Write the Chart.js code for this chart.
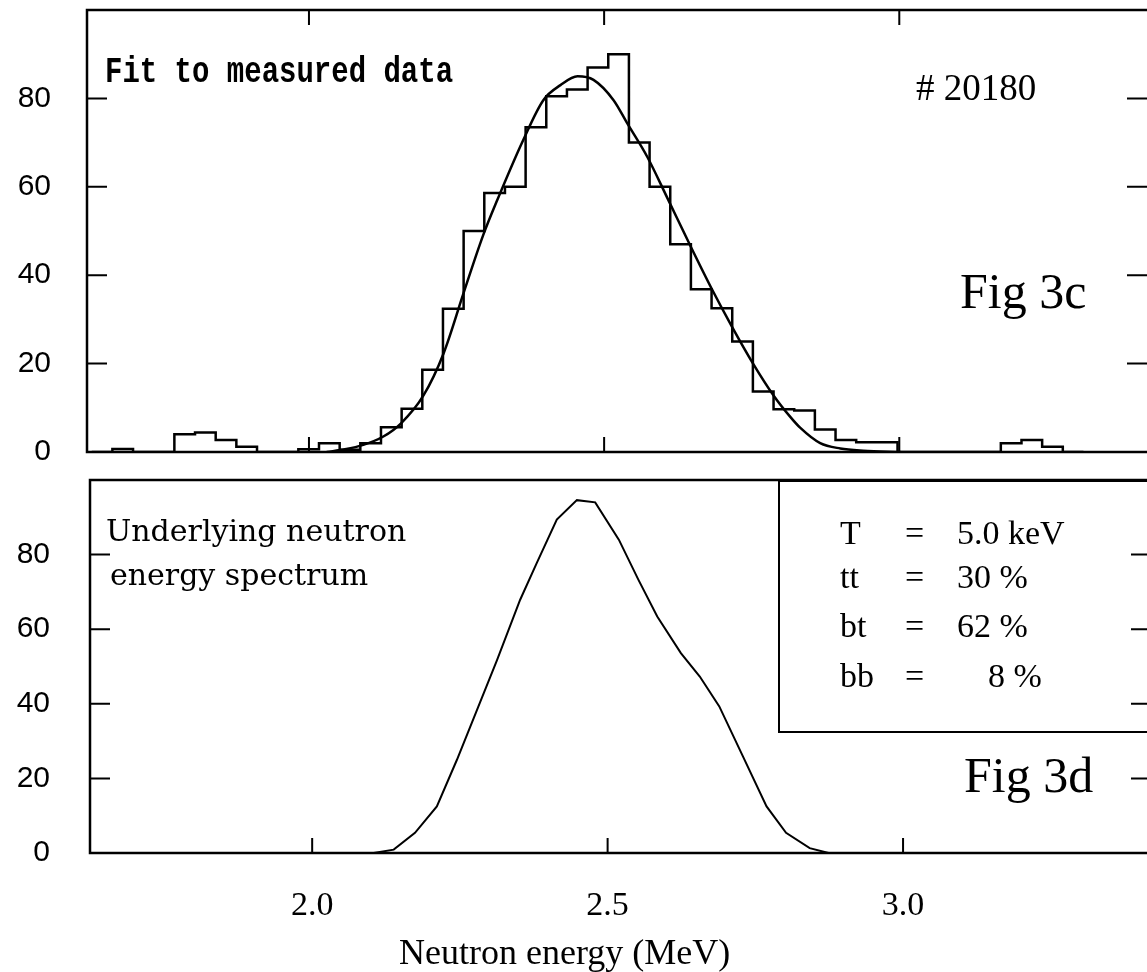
<!DOCTYPE html>
<html>
<head>
<meta charset="utf-8">
<script src="https://cdn.jsdelivr.net/npm/chart.js@4"></script>
<style>
  body { margin: 0; background: #fff; overflow: hidden; width: 1147px; height: 972px; position: relative; }
  canvas { position: absolute; left: 0; }
  .txt { position: absolute; white-space: pre; color: #000; line-height: 1; }
  .serif { font-family: "Liberation Serif", serif; }
  .legendBox { position: absolute; left: 778px; top: 480px; width: 420px; height: 253px; border: 2px solid #000; box-sizing: border-box; }
</style>
</head>
<body>
<canvas id="top" width="1160" height="470" style="top:0"></canvas>
<canvas id="bottom" width="1165" height="512" style="top:460px"></canvas>

<div class="legendBox"></div>

<div class="txt" style="left:105px;top:52px;font:bold 29px 'Liberation Mono',monospace;transform:scaleY(1.25);transform-origin:0 0">Fit to measured data</div>
<div class="txt serif" style="left:916px;top:69px;font-size:37px"># 20180</div>
<div class="txt serif" style="left:960px;top:266px;font-size:50px">Fig 3c</div>

<div class="txt" style="left:106px;top:513px;font:30px 'DejaVu Serif',serif">Underlying neutron</div>
<div class="txt" style="left:110px;top:557px;font:30px 'DejaVu Serif',serif">energy spectrum</div>

<div class="txt serif" style="left:840px;top:516px;font-size:34px">T</div>
<div class="txt serif" style="left:905px;top:516px;font-size:34px">=</div>
<div class="txt serif" style="left:957px;top:516px;font-size:34px">5.0 keV</div>
<div class="txt serif" style="left:840px;top:560px;font-size:34px">tt</div>
<div class="txt serif" style="left:905px;top:560px;font-size:34px">=</div>
<div class="txt serif" style="left:957px;top:560px;font-size:34px">30 %</div>
<div class="txt serif" style="left:840px;top:609px;font-size:34px">bt</div>
<div class="txt serif" style="left:905px;top:609px;font-size:34px">=</div>
<div class="txt serif" style="left:957px;top:609px;font-size:34px">62 %</div>
<div class="txt serif" style="left:840px;top:659px;font-size:34px">bb</div>
<div class="txt serif" style="left:905px;top:659px;font-size:34px">=</div>
<div class="txt serif" style="left:988px;top:659px;font-size:34px">8 %</div>

<div class="txt serif" style="left:964px;top:750px;font-size:50px">Fig 3d</div>
<div class="txt serif" style="left:399px;top:934px;font-size:36px">Neutron energy (MeV)</div>

<script>
// axis ranges and ticks
var xMin = 1.624, xMax = 3.423;
var xTicks = [2.0, 2.5, 3.0];
var yTicks = [0, 20, 40, 60, 80];

// measured histogram (Fig 3c): bin edges in MeV and counts per bin
var binEdges = [1.632, 1.667, 1.702, 1.737, 1.772, 1.807, 1.842, 1.877, 1.912, 1.947,
                1.982, 2.017, 2.052, 2.087, 2.122, 2.157, 2.192, 2.227, 2.262, 2.297,
                2.332, 2.367, 2.402, 2.437, 2.472, 2.507, 2.542, 2.577, 2.612, 2.647,
                2.682, 2.717, 2.752, 2.787, 2.822, 2.857, 2.892, 2.927, 2.962, 2.997,
                3.032, 3.067, 3.102, 3.137, 3.172, 3.207, 3.242, 3.277, 3.312];
var binCounts = [0, 0.7, 0, 0, 4, 4.4, 2.7, 1.2, 0, 0,
                 0.6, 2, 0.5, 2, 5.6, 9.8, 18.6, 32.4, 50, 58.6,
                 60, 73.5, 80.5, 82, 87, 90, 70, 60, 47, 36.8,
                 32.5, 25, 13.7, 9.7, 9.4, 5.1, 2.7, 2.2, 2.2, 0,
                 0, 0, 0, 0, 2, 2.7, 1.2, 0];

// fitted curve (Fig 3c)
var fitEnergy = [2.030, 2.061, 2.092, 2.126, 2.156, 2.194, 2.228, 2.262, 2.295, 2.319,
                 2.363, 2.397, 2.426, 2.455, 2.482, 2.516, 2.539, 2.573, 2.607, 2.643,
                 2.682, 2.716, 2.751, 2.787, 2.815, 2.832, 2.866, 2.900, 2.939, 3.002];
var fitCounts = [0, 0.6, 1.6, 3.5, 6.5, 12.8, 22.3, 36, 49, 57,
                 70.6, 79.6, 83, 85, 84.2, 79.6, 74.4, 66.8, 57.5, 47.5,
                 37, 28.5, 20.3, 12.8, 8, 5.5, 2, 0.8, 0.3, 0];

// underlying neutron energy spectrum (Fig 3d)
var specEnergy = [2.080, 2.104, 2.138, 2.174, 2.211, 2.245, 2.279, 2.313, 2.352, 2.380,
                  2.414, 2.448, 2.479, 2.519, 2.552, 2.584, 2.624, 2.656, 2.689, 2.729,
                  2.769, 2.802, 2.842, 2.874];
var specCounts = [0, 0, 0.9, 5.4, 12.5, 25, 38.4, 51.8, 67.9, 77.7,
                  89.4, 94.6, 94, 84, 73.3, 63.4, 53.6, 47.3, 39.3, 25.9,
                  12.5, 5.4, 1.3, 0];

function pairs(xs, ys) {
  return xs.map(function (x, i) { return { x: x, y: ys[i] }; });
}

var histPoints = [{ x: binEdges[0], y: 0 }];
for (var i = 0; i < binCounts.length; i++) {
  histPoints.push({ x: binEdges[i], y: binCounts[i] });
}
histPoints.push({ x: binEdges[binEdges.length - 1], y: 0 });

// frame with inward tick marks, like the original plotter output
var frameTicks = {
  id: 'frameTicks',
  afterDatasetsDraw: function (chart, args, opts) {
    var ctx = chart.ctx, a = chart.chartArea, x = chart.scales.x, y = chart.scales.y;
    ctx.save();
    ctx.strokeStyle = '#000';
    ctx.lineWidth = 2.5;
    ctx.strokeRect(a.left, a.top, a.right - a.left, a.bottom - a.top);
    ctx.lineWidth = 2;
    ctx.beginPath();
    yTicks.forEach(function (v) {
      if (v === 0) return;
      var py = y.getPixelForValue(v);
      ctx.moveTo(a.left, py); ctx.lineTo(a.left + 20, py);
      ctx.moveTo(a.right, py); ctx.lineTo(a.right - 22, py);
    });
    xTicks.forEach(function (v) {
      var px = x.getPixelForValue(v);
      ctx.moveTo(px, a.bottom); ctx.lineTo(px, a.bottom - 15);
      if (opts.topTicks) { ctx.moveTo(px, a.top); ctx.lineTo(px, a.top + 15); }
    });
    ctx.stroke();
    ctx.restore();
  }
};

// axis sizes are pinned so the plot frames land where they are in the figure
function noPad(s) {
  s.paddingTop = 0; s.paddingBottom = 0; s.paddingLeft = 0; s.paddingRight = 0;
}

function panelOptions(p) {
  return {
    responsive: false,
    animation: false,
    layout: { padding: { top: p.padTop, right: p.padRight, left: 0, bottom: 0 } },
    plugins: {
      legend: { display: false },
      tooltip: { enabled: false },
      frameTicks: { topTicks: p.topTicks }
    },
    scales: {
      x: {
        type: 'linear', min: xMin, max: xMax,
        afterBuildTicks: function (s) { s.ticks = xTicks.map(function (v) { return { value: v }; }); },
        afterFit: function (s) { s.height = p.xAxisHeight; noPad(s); },
        grid: { display: false, drawTicks: false },
        border: { display: false },
        ticks: {
          display: p.xLabels, padding: 33, color: '#000', maxRotation: 0,
          font: { family: 'Liberation Serif', size: 34 },
          callback: function (v) { return Number(v).toFixed(1); }
        }
      },
      y: {
        type: 'linear', min: 0, max: 100,
        afterBuildTicks: function (s) { s.ticks = yTicks.map(function (v) { return { value: v }; }); },
        afterFit: function (s) { s.width = p.yAxisWidth; noPad(s); },
        grid: { display: false, drawTicks: false },
        border: { display: false },
        ticks: {
          padding: p.yPad, color: '#000',
          font: { family: 'Liberation Sans', size: 30 },
          callback: function (v) { return String(v); }
        }
      }
    }
  };
}

new Chart(document.getElementById('top'), {
  type: 'line',
  data: {
    datasets: [
      { data: histPoints, stepped: 'before', borderColor: '#000', borderWidth: 2.5, pointRadius: 0, fill: false },
      { data: pairs(fitEnergy, fitCounts), cubicInterpolationMode: 'monotone', borderColor: '#000', borderWidth: 2.5, pointRadius: 0, fill: false }
    ]
  },
  options: panelOptions({ padTop: 10, padRight: 11, xAxisHeight: 18, yAxisWidth: 87, yPad: 36, xLabels: false, topTicks: true }),
  plugins: [frameTicks]
});

new Chart(document.getElementById('bottom'), {
  type: 'line',
  data: {
    datasets: [
      { data: pairs(specEnergy, specCounts), tension: 0, borderColor: '#000', borderWidth: 2, pointRadius: 0, fill: false }
    ]
  },
  options: panelOptions({ padTop: 20, padRight: 12, xAxisHeight: 119, yAxisWidth: 90, yPad: 40, xLabels: true, topTicks: false }),
  plugins: [frameTicks]
});
</script>
</body>
</html>
